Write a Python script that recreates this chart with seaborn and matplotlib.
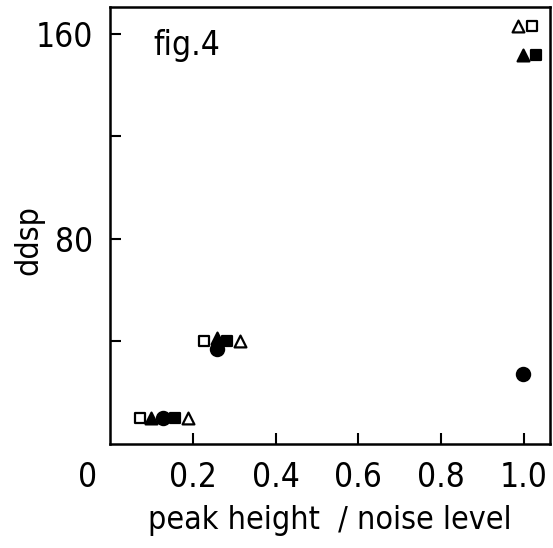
import matplotlib
matplotlib.use("Agg")
import matplotlib.pyplot as plt
import seaborn as sns
import pandas as pd

# measured points, one list per marker series
open_square_x = [0.072, 0.227, 1.019]
open_square_y = [10.1, 40.2, 163.1]
filled_triangle_x = [0.100, 0.258, 0.998]
filled_triangle_y = [10.1, 41.3, 151.8]
filled_circle_x = [0.128, 0.258, 0.998]
filled_circle_y = [10.1, 37.1, 27.3]
filled_square_x = [0.157, 0.282, 1.029]
filled_square_y = [10.1, 40.2, 151.8]
open_triangle_x = [0.188, 0.314, 0.986]
open_triangle_y = [10.1, 40.2, 163.1]

x_ticks = [0.2, 0.4, 0.6, 0.8, 1.0]
x_tick_labels = ["0.2", "0.4", "0.6", "0.8", "1.0"]
y_ticks = [40, 80, 120, 160]
y_tick_labels = ["", "80", "", "160"]

sns.set_theme(style="white")
plt.rcParams["font.family"] = ["DejaVu Sans"]
plt.rcParams["font.stretch"] = "condensed"
plt.rcParams["text.color"] = "black"
plt.rcParams["axes.labelcolor"] = "black"

fig = plt.figure(figsize=(5.53, 5.48), dpi=100)
ax = fig.add_axes([0.199, 0.19, 0.7956, 0.797])

series = [
    ("open square", open_square_x, open_square_y, "s", "white", 7.5),
    ("filled triangle", filled_triangle_x, filled_triangle_y, "^", "black", 8.5),
    ("filled circle", filled_circle_x, filled_circle_y, "o", "black", 9.5),
    ("filled square", filled_square_x, filled_square_y, "s", "black", 7.5),
    ("open triangle", open_triangle_x, open_triangle_y, "^", "white", 8.5),
]
for name, xs, ys, mk, fc, ms in series:
    df = pd.DataFrame({"ratio": xs, "ddsp": ys})
    sns.scatterplot(data=df, x="ratio", y="ddsp", marker=mk, s=ms ** 2,
                    facecolor=fc, edgecolor="black", linewidth=1.6,
                    ax=ax, zorder=3, label=name, legend=False)

ax.set_xlim(0, 1.063)
ax.set_ylim(0, 170.5)
ax.set_xticks(x_ticks)
ax.set_xticklabels(x_tick_labels)
ax.set_yticks(y_ticks)
ax.set_yticklabels(y_tick_labels)

for sp in ax.spines.values():
    sp.set_linewidth(1.8)
    sp.set_color("black")
ax.tick_params(direction="in", length=8, width=1.5, colors="black",
               labelsize=24, pad=12, bottom=True, left=True)

# shared origin label at the corner
ax.annotate("0", xy=(-0.05, 0), xycoords="axes fraction",
            xytext=(0, -12), textcoords="offset points",
            ha="center", va="top", fontsize=24)

ax.text(0.175, 0.913, "fig.4", transform=ax.transAxes, ha="center",
        va="center", fontsize=24)

ax.set_xlabel("peak height  / noise level", fontsize=23, labelpad=8)
ax.set_ylabel("ddsp", fontsize=23)
ax.yaxis.set_label_coords(-0.15, 0.467)

fig.savefig("out.png", dpi=100, facecolor="white")
